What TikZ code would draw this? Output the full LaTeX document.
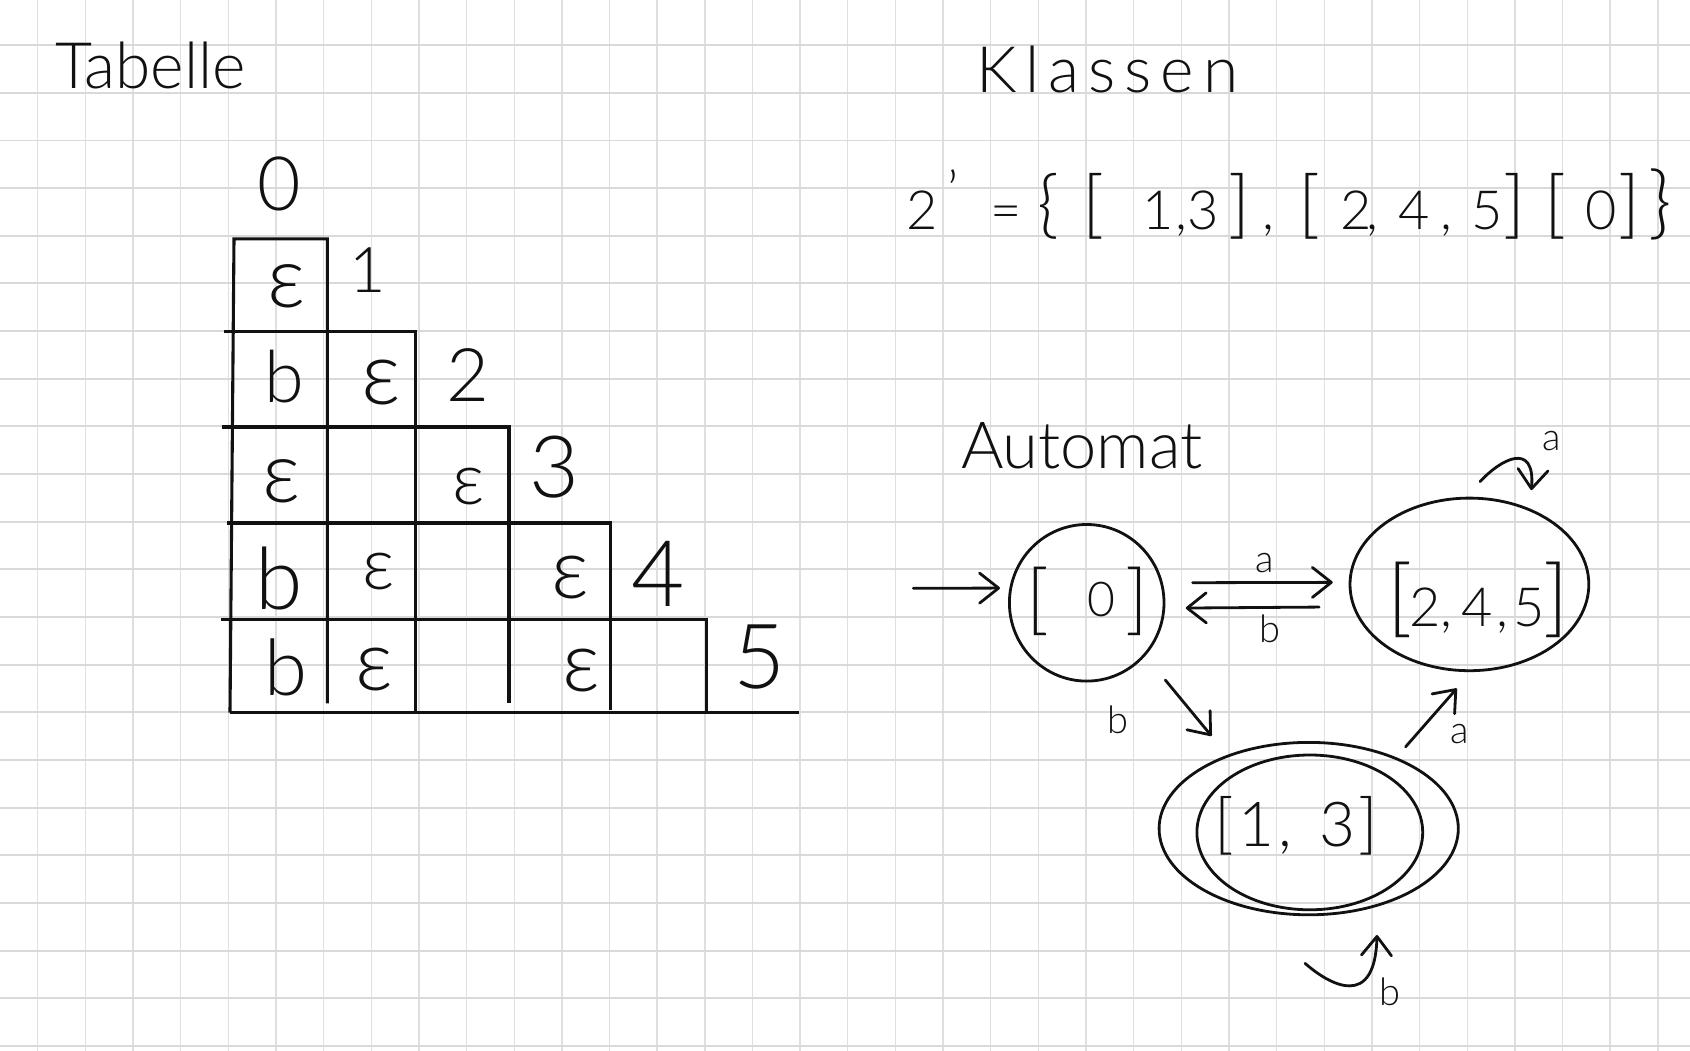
\documentclass[tikz,border=0pt]{standalone}
\usepackage{fontspec}
\IfFontExistsTF{Lato Light}{\setmainfont{Lato Light}}{\setmainfont{Lato}}
\usetikzlibrary{arrows.meta,shapes.geometric,calc}
\newcommand\fsz[1]{\fontsize{#1}{#1}\selectfont}
\newcommand\tk[2]{\makebox[#1pt][l]{#2}}
\newcommand\bk[2]{{\fsz{#1}#2}}
\definecolor{gridh}{HTML}{D9D9D9}
\definecolor{gridv}{HTML}{DFDFDF}
\definecolor{ink}{HTML}{111111}
\tikzset{
  hgrid/.style={draw=gridh, line width=1.9pt},
  vgrid/.style={draw=gridv, line width=1.4pt},
  stroke/.style={draw=ink, line width=2.8pt, line cap=round, line join=round},
  tline/.style={draw=ink, line width=3.1pt},
  state/.style={ellipse, draw=ink, line width=2.8pt, inner sep=0pt, outer sep=0pt},
  txt/.style={inner sep=0pt, outer sep=0pt, text=ink},
  arr/.style={stroke, -{Straight Barb[length=19pt,width=30pt,round]}},
  lab/.style={txt, font=\fsz{38}}
}
\begin{document}
\begin{tikzpicture}[x=1pt,y=-1pt]
\fill[white] (0,0) rectangle (1690,1051);
\useasboundingbox (0,0) rectangle (1690,1051);
% grid paper
\foreach \i in {0,...,34} \draw[vgrid] ({37.7+47.65*\i},0) -- ++(0,1051);
\foreach \j in {0,...,21} \draw[hgrid] (0,{45.2+47.65*\j}) -- ++(1690,0);

% titles
\node[txt, anchor=base west, font=\fsz{64}] (ttab) at (55,89) {Tabelle};
\node[txt, anchor=base west, font={\fsz{64}\addfontfeature{LetterSpace=14}}] (tkl) at (976,93) {Klassen};
\node[txt, anchor=base west, font=\fsz{65}] (taut) at (961,468) {Automat};
\node[txt, anchor=base west, font=\fsz{54}] (teq) at (906,230) {%
  \tk{84}{2\hspace{10pt}\raisebox{20pt}{'}}%
  \tk{47}{=}%
  \tk{45}{\bk{74}{\{}}%
  \tk{60}{\bk{74}{[}}%
  \tk{34}{1}\tk{11}{,}\tk{41}{3}%
  \tk{34}{\bk{74}{]}}\tk{36}{,}%
  \tk{42}{\bk{74}{[}}%
  \tk{26}{2}\tk{32}{,}\tk{43}{4}\tk{31}{,}\tk{31}{5}%
  \tk{42}{\bk{74}{]}}%
  \tk{40}{\bk{74}{[}}%
  \tk{33}{0}%
  \tk{30}{\bk{74}{]}}%
  \bk{80}{\}}};

% table lines
\draw[tline] (230,712.7) -- (234,238.9) -- (327.3,238.9) -- (327.3,703.4);
\draw[tline] (223.7,331.5) -- (415.9,331.5) -- (415.9,712.7);
\draw[tline] (222,427) -- (509,427) -- (509,703.4);
\draw[tline] (226.5,523) -- (610.6,523) -- (610.6,709.6);
\draw[tline] (220.8,619.8) -- (706.5,619.8) -- (706.5,712.7);
\draw[tline] (230,712.7) -- (798.8,712.7);

% table labels
\node[txt, font=\fsz{75}] (h0) at (279.5,184) {0};
\node[txt, font=\fsz{63}] (h1) at (367.5,270.5) {1};
\node[txt, font=\fsz{74}] (h2) at (468,375) {2};
\node[txt, font=\fsz{86}] (h3) at (554.5,467.5) {3};
\node[txt, font=\fsz{92}] (h4) at (658.5,573.6) {4};
\node[txt, font=\fsz{90}] (h5) at (759.5,657) {5};

% table cells
\node[txt, font=\fsz{85}] (c10) at (286.7,286.6) {ε};
\node[txt, font=\fsz{72}] (c20) at (284,377) {b};
\node[txt, font=\fsz{88}] (c21) at (381.5,383) {ε};
\node[txt, font=\fsz{85}] (c30) at (282,481) {ε};
\node[txt, font=\fsz{72}] (c32) at (468.8,486.4) {ε};
\node[txt, font=\fsz{86}] (c40) at (279.5,578) {b};
\node[txt, font=\fsz{72}] (c41) at (379,571.5) {ε};
\node[txt, font=\fsz{84}] (c43) at (570,577.6) {ε};
\node[txt, font=\fsz{78}] (c50) at (285.5,667.5) {b};
\node[txt, font=\fsz{84}] (c51) at (374.3,670) {ε};
\node[txt, font=\fsz{84}] (c53) at (581.7,671) {ε};

% automaton states
\node[state, minimum width=154.6pt, minimum height=156.6pt] (s0) at (1086.7,602.8) {};
\node[state, minimum width=238.8pt, minimum height=172.6pt] (s245) at (1469.4,584.4) {};
\node[state, minimum width=299.2pt, minimum height=172.4pt] (s13) at (1308.7,828.6) {};
\node[state, minimum width=225.8pt, minimum height=154.8pt] (s13i) at (1309.8,832.4) {};

\node[txt, anchor=base west] (l0) at (1026,625)
  {\tk{61}{\bk{77}{[}}\tk{38}{\raisebox{9pt}{\fsz{48}0}}\bk{77}{]}};
\node[txt, anchor=base west] (l245) at (1387,626)
  {\tk{22}{\bk{85}{[}}{\fsz{54}\tk{31}{2}\tk{22}{,}\tk{34}{4}\tk{18}{,}\tk{29}{5}}\bk{85}{]}};
\node[txt, anchor=base west] (l13) at (1214,846)
  {\tk{24}{\bk{66}{[}}{\fsz{62}\tk{40}{1}\tk{42}{,}\tk{38}{3}}\bk{66}{]}};

% transitions
\coordinate (init) at (913.3,588.3);
\draw[arr, shorten >=10.8pt] (init) -- (s0.169);
\draw[arr, shorten <=31.2pt, shorten >=17.3pt] (s0.15) -- (s245.179);
\draw[arr, shorten <=35pt, shorten >=22pt] (s245.191) -- (s0.356);
\draw[arr, shorten <=32.7pt, shorten >=26pt] (s0.318) -- (s13.138);
\draw[arr, shorten <=15.4pt, shorten >=23.7pt] (s13.39) -- (s245.272);

\coordinate (qa0) at ($(s245.north)+(10.6,-16.4)$);
\coordinate (qa1) at ($(s245.north)+(62,-8)$);
\draw[arr] (qa0) .. controls +(20,-22) and +(4,-50) .. (qa1);
\coordinate (qb0) at ($(s13.south)+(-3.7,48.5)$);
\coordinate (qb1) at ($(s13.south)+(68.3,20.2)$);
\draw[arr] (qb0) .. controls +(25,22) and +(-2,75) .. (qb1);

\node[lab] (la1) at (1264.5,563) {a};
\node[lab] (lb1) at (1270,629) {b};
\node[lab] (lb2) at (1118,720) {b};
\node[lab] (la2) at (1460,734) {a};
\node[lab] (la3) at (1552,441) {a};
\node[lab] (lb3) at (1390,991.5) {b};
\end{tikzpicture}
\end{document}
